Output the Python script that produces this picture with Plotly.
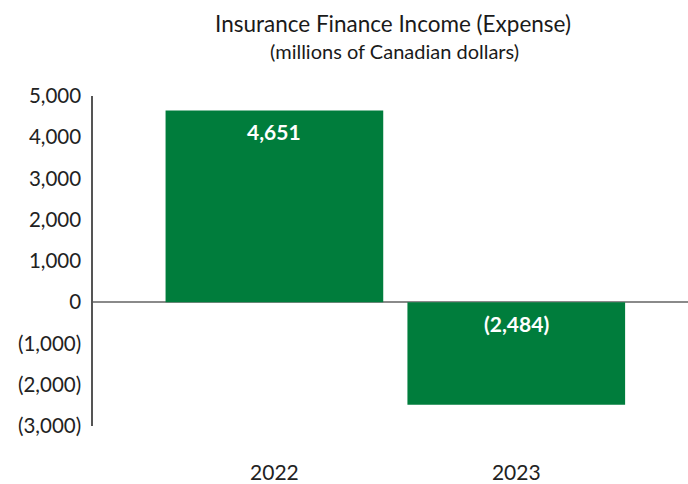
import plotly.graph_objects as go

# Insurance finance income (expense), millions of CAD
years = ["2022", "2023"]
values = [4651, -2484]
y_ticks = [5000, 4000, 3000, 2000, 1000, 0, -1000, -2000, -3000]

GREEN = "#007d3c"
FONT = "Lato"

W, H = 688, 484
ML, MR, MT, MB = 93, 0, 96, 58
PW, PH = W - ML - MR, H - MT - MB


def fmt(v):
    """Accounting style: negatives in parentheses."""
    return f"({abs(v):,})" if v < 0 else f"{v:,}"


def px_to_paper(px, py):
    return (px - ML) / PW, 1 + (MT - py) / PH


fig = go.Figure(
    go.Bar(
        x=years,
        y=values,
        marker=dict(color=GREEN, line=dict(width=0)),
        hoverinfo="skip",
    )
)

# value labels sit just inside the bar, below its upper edge
for i, v in enumerate(values):
    fig.add_annotation(
        x=i, y=max(v, 0), xref="x", yref="y",
        text=f"<b>{fmt(v)}</b>", showarrow=False,
        yanchor="top", yshift=-7,
        font=dict(family=FONT, size=21, color="white"),
    )

# title block
tx, ty = px_to_paper(393, 23)
fig.add_annotation(
    x=tx, y=ty, xref="paper", yref="paper", xanchor="center", yanchor="middle",
    text="Insurance Finance Income (Expense)", showarrow=False,
    font=dict(family=FONT, size=22.5, color="#1a1a1a"),
)
sx, sy = px_to_paper(394, 51)
fig.add_annotation(
    x=sx, y=sy, xref="paper", yref="paper", xanchor="center", yanchor="middle",
    text="(millions of Canadian dollars)", showarrow=False,
    font=dict(family=FONT, size=20, color="#1a1a1a"),
)

fig.update_layout(
    width=W, height=H,
    margin=dict(l=ML, r=MR, t=MT, b=MB, pad=0),
    plot_bgcolor="white", paper_bgcolor="white",
    bargap=0.1,
    showlegend=False,
    font=dict(family=FONT, color="#222222"),
    xaxis=dict(
        type="category",
        range=[-0.75, 1.71],
        showgrid=False, zeroline=False, showline=False,
        ticks="outside", ticklen=28, tickcolor="rgba(0,0,0,0)",
        tickfont=dict(family=FONT, size=21, color="#222222"),
    ),
    yaxis=dict(
        range=[-3000, 5000],
        tickvals=y_ticks,
        ticktext=[fmt(v) for v in y_ticks],
        showgrid=False,
        zeroline=True, zerolinecolor="#8a8a8a", zerolinewidth=1.5,
        showline=True, linecolor="#555555", linewidth=1.5,
        ticks="", ticklabelstandoff=6,
        tickfont=dict(family=FONT, size=20.5, color="#222222"),
    ),
)

fig.write_html("out.html")
